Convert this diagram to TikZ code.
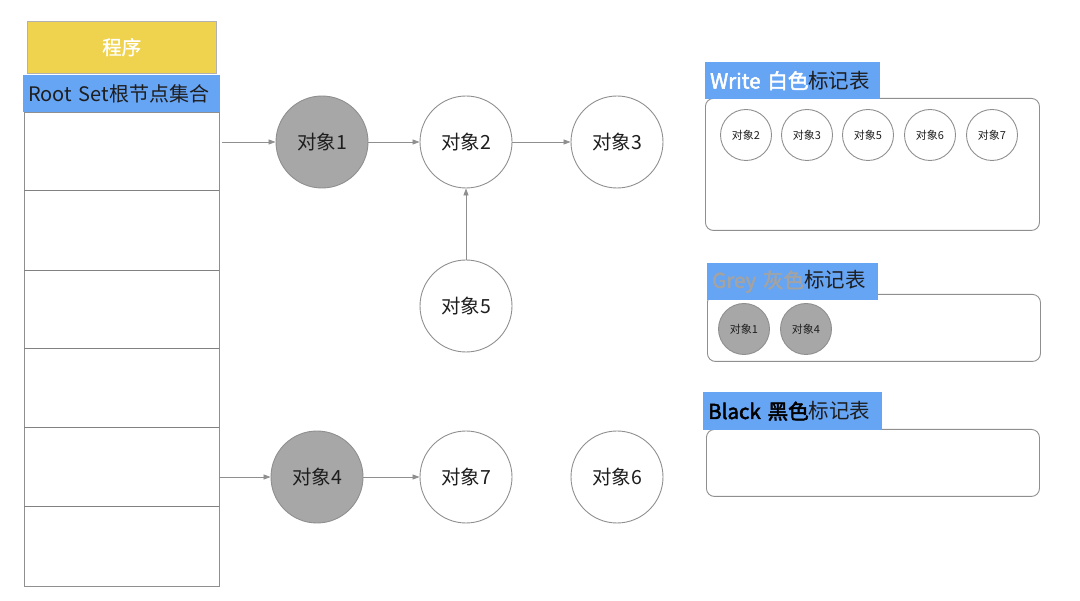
\documentclass[tikz,border=0pt]{standalone}
\usepackage{fontspec}
\setmainfont{Noto Sans CJK SC}
\newfontfamily\cjkbold[FakeBold=2.5]{Noto Sans CJK SC}
\newfontfamily\cjksemi[FakeBold=1]{Noto Sans CJK SC}
\usetikzlibrary{arrows.meta}
\definecolor{yel}{HTML}{EFD24E}
\definecolor{blu}{HTML}{66A4F4}
\definecolor{gfill}{HTML}{A6A7A6}
\definecolor{lgray}{HTML}{8F8F8F}
\definecolor{txt}{HTML}{1E1E1E}
\definecolor{greytxt}{HTML}{A3A3A3}
\tikzset{
  obj/.style={circle,draw=lgray,line width=0.9pt,minimum size=92pt,inner sep=0pt,font=\fontsize{19.5}{19.5}\selectfont,text=txt},
  grayobj/.style={obj,fill=gfill},
  mini/.style={circle,draw=lgray,line width=0.9pt,minimum size=51pt,inner sep=0pt,font=\fontsize{11}{11}\selectfont,text=txt},
  graymini/.style={mini,fill=gfill},
  conn/.style={draw=lgray,line width=0.8pt,-{Triangle[length=7pt,width=5pt]}},
  hdr/.style={fill=blu,inner ysep=0pt,inner xsep=5pt,align=left,font=\fontsize{20.5}{20.5}\selectfont,text=txt},
  table/.style={draw=lgray,line width=0.9pt,rounded corners=8pt},
}
\begin{document}
\begin{tikzpicture}[x=1pt,y=-1pt]
\useasboundingbox (0,0) rectangle (1080,601);
% program box
\node[draw=lgray!70,fill=yel,minimum width=189pt,minimum height=52pt,inner sep=0pt,anchor=north west,text=white,font=\fontsize{19.5}{19.5}\selectfont\cjksemi] (prog) at (27,21) {程序};
\node[hdr,text width=187pt,minimum height=37pt,anchor=north west,font=\fontsize{20}{20}\selectfont] (root) at (23,75) {Root Set根节点集合};
% column
\node[draw=lgray,line width=0.9pt,minimum width=195pt,minimum height=474pt,inner sep=0pt,anchor=north west] (col) at (24,112) {};
\foreach \yy in {190,270,348,427,506}
  \draw[lgray!90!black,line width=0.9pt] (24,\yy) -- (219,\yy);
\coordinate (r1) at (222,142);
\coordinate (r5) at (220,477);
% objects
\node[grayobj] (o1) at (322,142) {对象1};
\node[obj] (o2) at (466,142) {对象2};
\node[obj] (o3) at (617,142) {对象3};
\node[obj] (o5) at (466,306) {对象5};
\node[grayobj] (o4) at (317,477) {对象4};
\node[obj] (o7) at (466,477) {对象7};
\node[obj] (o6) at (617,477) {对象6};
\draw[conn] (r1) -- (o1);
\draw[conn] (o1) -- (o2);
\draw[conn] (o2) -- (o3);
\draw[conn] (o5) -- (o2);
\draw[conn] (r5) -- (o4);
\draw[conn] (o4) -- (o7);
% write table
\node[table,minimum width=334pt,minimum height=132pt,inner sep=0pt,anchor=north west] (wt) at (705,98) {};
\node[hdr,text width=165pt,minimum height=37pt,anchor=north west] (wh) at (705,62) {\textcolor{white}{\cjkbold Write 白色}标记表};
\node[mini] (w2) at (746,135) {对象2};
\node[mini] (w3) at (807,135) {对象3};
\node[mini] (w5) at (868,135) {对象5};
\node[mini] (w6) at (930,135) {对象6};
\node[mini] (w7) at (992,135) {对象7};
% grey table
\node[table,minimum width=333pt,minimum height=67pt,inner sep=0pt,anchor=north west] (gt) at (707,294) {};
\node[hdr,text width=161pt,minimum height=37pt,anchor=north west] (gh) at (707,263) {\textcolor{greytxt}{\cjkbold Grey 灰色}标记表};
\node[graymini] (g1) at (744,329) {对象1};
\node[graymini] (g4) at (806,329) {对象4};
% black table
\node[table,minimum width=333pt,minimum height=67pt,inner sep=0pt,anchor=north west] (bt) at (706,429) {};
\node[hdr,text width=169pt,minimum height=38pt,anchor=north west] (bh) at (703,392) {\textcolor{black}{\cjkbold Black 黑色}标记表};
\end{tikzpicture}
\end{document}
